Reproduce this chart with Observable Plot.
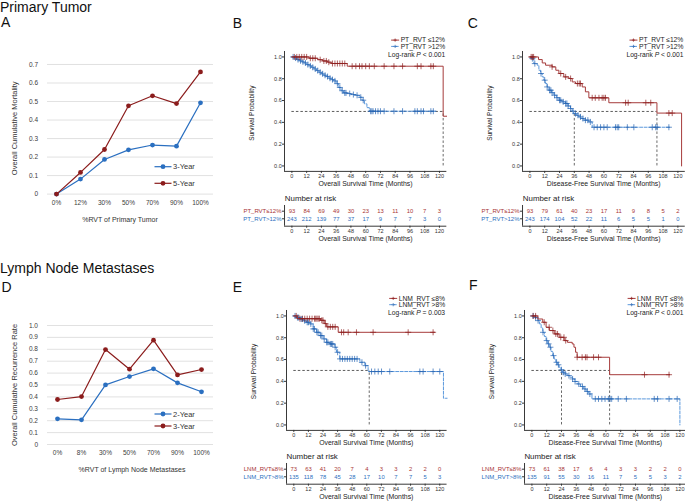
<!DOCTYPE html>
<html><head><meta charset="utf-8">
<script src="https://cdn.jsdelivr.net/npm/d3@7"></script>
<script src="https://cdn.jsdelivr.net/npm/@observablehq/plot@0.6"></script>
<style>
html,body{margin:0;padding:0;background:#fff;overflow:hidden;}
#root{position:relative;width:685px;height:501px;overflow:hidden;background:#fff;}
#root > svg{position:absolute;}
</style></head>
<body><div id="root"></div>
<script>
// ================= DATA =================
const ptCategories = ["0%","12%","30%","50%","70%","90%","100%"];
const pt3Year = [0, 0.081, 0.187, 0.239, 0.265, 0.259, 0.493];
const pt5Year = [0, 0.117, 0.241, 0.477, 0.531, 0.489, 0.660];
const ptTicks = [0, 0.1, 0.2, 0.3, 0.4, 0.5, 0.6, 0.7];

const lnmCategories = ["0%","8%","30%","50%","70%","90%","100%"];
const lnm2Year = [0.216, 0.207, 0.501, 0.571, 0.636, 0.518, 0.443];
const lnm3Year = [0.378, 0.403, 0.798, 0.633, 0.877, 0.585, 0.630];
const lnmTicks = [0, 0.1, 0.2, 0.3, 0.4, 0.5, 0.6, 0.7, 0.8, 0.9, 1.0];

const riskTimes = [0, 12, 24, 36, 48, 60, 72, 84, 96, 108, 120];
const survTicks = [0, 0.2, 0.4, 0.6, 0.8, 1.0];

// B: PT, overall survival
const bRiskLow  = [93, 84, 69, 49, 30, 23, 13, 11, 10, 7, 3];
const bRiskHigh = [243, 212, 139, 77, 37, 17, 9, 7, 7, 3, 0];
const bLowTimes = [0, 14, 21, 25, 29, 32, 45, 123, 126];
const bLowSurv  = [1, 0.988, 0.975, 0.963, 0.952, 0.94, 0.915, 0.456, 0.456];
const bLowCensor = [2,4,6,8,10,12,15,17,19,23,26,28,30,33,35,37,39,41,43,49,52,55,57,60,63,67,75,83,90,102,105,113,115];
const bHighTimes = [0,2,4,6,8,10,12,14,16,18,20,22,24,26,28,30,32,34,36,38,40,42,45,48,52,55,57,59,61,63,117];
const bHighSurv  = [1,0.99,0.976,0.965,0.955,0.945,0.93,0.918,0.905,0.89,0.875,0.86,0.845,0.832,0.82,0.805,0.792,0.78,0.755,0.72,0.69,0.67,0.664,0.655,0.648,0.63,0.603,0.57,0.535,0.502,0.502];
const bHighCensor = [1,3,5,7,9,11,13,15,17,19,21,23,25,27,29,31,33,35,37,39,41,43,44,47,50,53,56,58,64,65,66,68,70,72,75,83,90,100,102,105,107,113,115];
const bMedians = [123];

// C: PT, disease-free survival
const cRiskLow  = [93, 79, 61, 40, 23, 17, 11, 9, 8, 5, 2];
const cRiskHigh = [243, 174, 104, 52, 22, 11, 6, 5, 5, 1, 0];
const cLowTimes = [0,7,10,12.7,18,21,23.5,27.5,31.6,34.3,37,42.4,45,47.8,64,103,123];
const cLowSurv  = [1,0.976,0.945,0.924,0.909,0.878,0.848,0.817,0.802,0.771,0.756,0.725,0.68,0.625,0.58,0.485,0];
const cLowCensor = [1,2,3,18,25,29,33,38.5,40,41,50.5,53,56,58.6,60,61.3,77.6,79.7,94,98,112.7,115.4];
const cHighTimes = [0,1,3.2,5.9,7.3,8.6,10,11.3,12.7,14,15.4,17.4,19.4,21.5,23.5,26,28.9,31,32.9,34.2,35.6,37.6,39.7,41.7,43.8,47.8,50.5,114];
const cHighSurv  = [1,0.985,0.939,0.924,0.878,0.848,0.817,0.787,0.756,0.725,0.695,0.672,0.649,0.626,0.603,0.588,0.573,0.55,0.527,0.503,0.48,0.465,0.45,0.435,0.42,0.404,0.355,0.355];
const cHighCensor = [2,4,9,12,14,16,17,18,20,22,24,25,27,29,30,31,33,35,37,39,41,43,45,47,49,52,54.6,57.3,60,62.7,69.4,70.8,72,79,84.3,99.2,102,103.2,112.7];
const cMedians = [36, 103];

// E: LNM, overall survival
const eRiskLow  = [73, 63, 41, 20, 7, 4, 3, 3, 2, 2, 0];
const eRiskHigh = [135, 118, 78, 45, 28, 17, 10, 7, 7, 5, 3];
const eLowTimes = [0, 3, 22, 25, 27, 36.5, 116];
const eLowSurv  = [1, 0.975, 0.96, 0.93, 0.90, 0.85, 0.85];
const eLowCensor = [2,5,7,9,11,13,15,17,18,19,20,21,23,24,26,28,30,32,34,39.2,41,44.7,51.5,65.2,94,114.5];
const eHighTimes = [0,2,5,8,10.4,13.2,15.9,18.7,21.4,24.1,26.9,29.6,33.7,35.1,37.8,54.3,58.4,61.1,123,126];
const eHighSurv  = [1,0.985,0.972,0.955,0.942,0.927,0.881,0.85,0.82,0.789,0.758,0.743,0.713,0.667,0.606,0.575,0.544,0.49,0.245,0.245];
const eHighCensor = [1,3,4,6,7,9,11,12,14,16,17,19,20,22,23,25,27,28,30,31,32,34,36,38,40,42,44,46,48,50,52,56,59,63.9,66.6,69.4,72.1,78.9,103.6,106.3,114.5,120];
const eMedians = [62];

// F: LNM, disease-free survival
const fRiskLow  = [73, 61, 38, 17, 6, 4, 3, 3, 2, 2, 0];
const fRiskHigh = [135, 91, 55, 30, 16, 11, 7, 5, 5, 3, 2];
const fLowTimes = [0,4.8,8.8,11.5,14.1,18.1,22.1,26.1,28.8,32.7,34.1,35.4,36.7,63,112];
const fLowSurv  = [1,0.972,0.942,0.896,0.866,0.835,0.804,0.774,0.758,0.743,0.713,0.667,0.621,0.461,0.461];
const fLowCensor = [1,3,10,14,17,19.4,20.8,23.4,26,27.4,36.7,40.7,43.4,44.7,50,54,91.3,111.2];
const fHighTimes = [0,2,4.8,6.1,7.5,8.8,10.1,11.5,12.8,14.1,15.5,16.8,18.1,19.4,20.8,22.1,23.5,24.8,26.8,28.8,30.8,32.7,34.7,36.7,39.4,42,44,46,48.7,120];
const fHighSurv  = [1,0.985,0.957,0.927,0.889,0.85,0.812,0.774,0.744,0.713,0.675,0.636,0.605,0.575,0.552,0.529,0.506,0.483,0.468,0.453,0.438,0.422,0.399,0.376,0.353,0.33,0.307,0.284,0.239,0];
const fHighCensor = [1,3,5,9,12,13.5,15,17.5,20,21.5,24,25.5,27,30,33,35,38,41,43,45,47,51.4,54,56.7,59.3,62,63.4,64.7,70,76.6,99.2,101.9,111.2,117.8];
const fMedians = [24, 63];

// ================= STYLE =================
const FONT = '"Liberation Sans", Arial, Helvetica, sans-serif';
const RED_LINE = "#a63a3a", RED_MARK = "#8e1f1f", RED_TEXT = "#a83434";
const BLUE_LINE = "#5a98dc", BLUE_MARK = "#2463b2", BLUE_TEXT = "#2c6fbe";
const TREND_BLUE = "#2a6fc0", TREND_RED = "#8b1c1c";
const AXIS = "#222";
const xDomain = [-6, 126];
const yDomain = [-0.05, 1.05];
const riskYDomain = [-0.974, 1.75];
const RIGHT_LIMIT = 683.5;

const root = document.getElementById("root");
function place(svg, left, top){ svg.style.left = left + "px"; svg.style.top = top + "px"; root.appendChild(svg); }

function stepAt(times, surv, t){ let s = surv[0]; for (let i = 0; i < times.length; i++) if (times[i] <= t) s = surv[i]; return s; }

// ================= TREND PANELS (A, D) =================
function trendPanel(c){
  const ML = 40, MR = 4, MT = 6, MB = 16;
  const W = c.gridR - c.gridL + ML + MR;
  const H = c.py0 - c.pyMax + MT + MB;
  const marks = [
    Plot.ruleY(c.yTicks, {stroke: "#d9d9d9", strokeWidth: 0.8}),
    Plot.axisY(c.yTicks, {tickSize: 0, tickPadding: 9.5, tickFormat: d => d === 0 ? "0" : d.toFixed(1), fontSize: 6.5, color: "#404040", label: null}),
    Plot.axisX({tickSize: 0, tickPadding: c.xPad, fontSize: 6.5, color: "#404040", label: null})
  ];
  c.series.forEach(s => {
    const d = c.categories.map((cat, i) => ({cat, v: s.values[i]}));
    marks.push(Plot.line(d, {x: "cat", y: "v", stroke: s.color, strokeWidth: 1.2}));
    marks.push(Plot.dot(d, {x: "cat", y: "v", fill: s.color, r: 2.4}));
  });
  const svg = Plot.plot({
    width: W, height: H, marginLeft: ML, marginRight: MR, marginTop: MT, marginBottom: MB,
    x: {type: "point", domain: c.categories, padding: 0, insetLeft: c.px0 - c.gridL, insetRight: c.gridR - c.pxN, axis: null, label: null},
    y: {domain: [0, c.yMax], axis: null, label: null},
    style: {fontFamily: FONT, fontSize: "6.5px", background: "transparent", overflow: "visible"},
    marks
  });
  place(svg, c.gridL - ML, c.pyMax - MT);
}

trendPanel({categories: ptCategories, yTicks: ptTicks, yMax: 0.7,
  series: [{values: pt3Year, color: TREND_BLUE}, {values: pt5Year, color: TREND_RED}],
  gridL: 47, gridR: 213, px0: 54, pxN: 202, pyMax: 63.7, py0: 193.3, xPad: 6.5});
trendPanel({categories: lnmCategories, yTicks: lnmTicks, yMax: 1.0,
  series: [{values: lnm2Year, color: TREND_BLUE}, {values: lnm3Year, color: TREND_RED}],
  gridL: 47, gridR: 213, px0: 57.3, pxN: 201.7, pyMax: 325, py0: 444, xPad: 5.5});

// ================= KM PANELS (B, C, E, F) =================
const kmLayouts = [];
function kmPanel(c){
  const k = (c.px120 - c.px0) / 120;
  const axL = c.px0 + xDomain[0] * k, axR = c.px0 + xDomain[1] * k;
  const ky = c.py0 - c.py1;
  const axT = c.py1 - (yDomain[1] - 1) * ky, axB = c.py0 - yDomain[0] * ky;
  const ML = 30, MR = 4, MT = 3, MB = 12;
  const W = axR - axL + ML + MR;
  const maxMed = d3.max(c.medians);
  const marks = [
    Plot.ruleY([{y: 0.5, x1: 0, x2: maxMed}], {y: "y", x1: "x1", x2: "x2", stroke: "#333", strokeWidth: 0.8, strokeDasharray: "2.5,2"}),
    Plot.ruleX(c.medians.map(m => ({x: m, y1: 0, y2: 0.5})), {x: "x", y1: "y1", y2: "y2", stroke: "#444", strokeWidth: 0.8, strokeDasharray: "2.5,2"}),
    Plot.ruleX([xDomain[0]], {stroke: AXIS, strokeWidth: 0.9}),
    Plot.ruleY([yDomain[0]], {stroke: AXIS, strokeWidth: 0.9}),
    Plot.axisX(riskTimes, {tickSize: 2, tickPadding: 0.8, fontSize: 5.5, color: "#333", label: null}),
    Plot.axisY(survTicks, {tickSize: 2, tickPadding: 0.8, tickFormat: d => d.toFixed(1), fontSize: 5.5, color: "#333", label: null})
  ];
  c.groups.slice().reverse().forEach(g => {
    const pts = g.times.map((t, i) => ({t, s: g.surv[i]}));
    marks.push(Plot.line(pts, {x: "t", y: "s", curve: "step-after", stroke: g.lineColor, strokeWidth: 1, strokeDasharray: g.dash}));
    const cens = g.censor.map(t => ({t, s: stepAt(g.times, g.surv, t)}));
    marks.push(Plot.dot(cens, {x: "t", y: "s", symbol: "plus", r: 2.1, stroke: g.markColor, strokeWidth: 0.7}));
  });
  const svg = Plot.plot({
    width: W, height: axB - axT + MT + MB, marginLeft: ML, marginRight: MR, marginTop: MT, marginBottom: MB,
    x: {domain: xDomain, axis: null, label: null}, y: {domain: yDomain, axis: null, label: null},
    style: {fontFamily: FONT, fontSize: "5.5px", background: "transparent", overflow: "visible"},
    marks
  });
  place(svg, axL - ML, axT - MT);

  // risk table
  const rTop = c.py0 + 39.3, rBot = c.py0 + 60;
  const RMT = 2, RMB = 10;
  const rmarks = [
    Plot.ruleX([xDomain[0]], {stroke: AXIS, strokeWidth: 0.9}),
    Plot.ruleY([riskYDomain[0]], {stroke: AXIS, strokeWidth: 0.9}),
    Plot.axisX(riskTimes, {tickSize: 2, tickPadding: 0.8, fontSize: 5.5, color: "#333", label: null}),
    Plot.axisY([0, 1], {tickSize: 2, tickFormat: () => "", color: "#333", label: null})
  ];
  c.groups.forEach((g, gi) => {
    const row = gi === 0 ? 1 : 0;
    rmarks.push(Plot.text([{row, label: g.riskLabel}], {y: "row", text: "label", frameAnchor: "left", textAnchor: "end", dx: -3, fill: g.textColor, fontSize: 6}));
    rmarks.push(Plot.text(riskTimes.map((t, i) => ({t, row, n: String(g.risk[i])})), {x: "t", y: "row", text: "n", fill: g.textColor, fontSize: 5.9}));
  });
  const rsvg = Plot.plot({
    width: W, height: rBot - rTop + RMT + RMB, marginLeft: ML, marginRight: MR, marginTop: RMT, marginBottom: RMB,
    x: {domain: xDomain, axis: null, label: null}, y: {domain: riskYDomain, axis: null, label: null},
    style: {fontFamily: FONT, fontSize: "5.5px", background: "transparent", overflow: "visible"},
    marks: rmarks
  });
  place(rsvg, axL - ML, rTop - RMT);
  kmLayouts.push({c, k, axL, axR});
}

const ptGroups = (low, high) => [
  {legend: "PT_RVT \u226412%", riskLabel: "PT_RVT\u226412%", lineColor: RED_LINE, markColor: RED_MARK, textColor: RED_TEXT, dash: null, ...low},
  {legend: "PT_RVT >12%", riskLabel: "PT_RVT>12%", lineColor: BLUE_LINE, markColor: BLUE_MARK, textColor: BLUE_TEXT, dash: "3,1.5", ...high}
];
const lnmGroups = (low, high) => [
  {legend: "LNM_RVT \u22648%", riskLabel: "LNM_RVT\u22648%", lineColor: RED_LINE, markColor: RED_MARK, textColor: RED_TEXT, dash: null, ...low},
  {legend: "LNM_RVT >8%", riskLabel: "LNM_RVT>8%", lineColor: BLUE_LINE, markColor: BLUE_MARK, textColor: BLUE_TEXT, dash: "3,1.5", ...high}
];

kmPanel({letter: "B", lx: 232.7, ly: 28.3, px0: 291.7, px120: 439.3, py1: 56.7, py0: 165.7,
  xTitle: "Overall Survival Time (Months)", logrank: " < 0.001", medians: bMedians,
  groups: ptGroups({times: bLowTimes, surv: bLowSurv, censor: bLowCensor, risk: bRiskLow}, {times: bHighTimes, surv: bHighSurv, censor: bHighCensor, risk: bRiskHigh})});
kmPanel({letter: "C", lx: 467.7, ly: 28.3, px0: 529.7, px120: 677.7, py1: 56.7, py0: 165.7,
  xTitle: "Disease-Free Survival Time (Months)", logrank: " < 0.001", medians: cMedians,
  groups: ptGroups({times: cLowTimes, surv: cLowSurv, censor: cLowCensor, risk: cRiskLow}, {times: cHighTimes, surv: cHighSurv, censor: cHighCensor, risk: cRiskHigh})});
kmPanel({letter: "E", lx: 232.7, ly: 291.7, px0: 293.3, px120: 439.3, py1: 315, py0: 424,
  xTitle: "Overall Survival Time (Months)", logrank: " = 0.003", medians: eMedians,
  groups: lnmGroups({times: eLowTimes, surv: eLowSurv, censor: eLowCensor, risk: eRiskLow}, {times: eHighTimes, surv: eHighSurv, censor: eHighCensor, risk: eRiskHigh})});
kmPanel({letter: "F", lx: 469, ly: 290, px0: 531.3, px120: 679.3, py1: 315, py0: 424,
  xTitle: "Disease-Free Survival Time (Months)", logrank: " < 0.001", medians: fMedians,
  groups: lnmGroups({times: fLowTimes, surv: fLowSurv, censor: fLowCensor, risk: fRiskLow}, {times: fHighTimes, surv: fHighSurv, censor: fHighCensor, risk: fRiskHigh})});

// ================= OVERLAY TEXT =================
const overlay = d3.create("svg").attr("width", 685).attr("height", 501)
  .style("left", "0px").style("top", "0px").style("pointer-events", "none")
  .attr("font-family", FONT);
root.appendChild(overlay.node());

function text(x, y, str, opt = {}){
  const t = overlay.append("text").attr("x", x).attr("y", y)
    .attr("font-size", opt.size || 7).attr("fill", opt.fill || "#1a1a1a")
    .attr("text-anchor", opt.anchor || "start");
  if (opt.rotate) t.attr("transform", `rotate(${opt.rotate},${x},${y})`);
  if (Array.isArray(str)) str.forEach(p => t.append("tspan").attr("font-style", p.italic ? "italic" : null).text(p.t));
  else t.text(str);
  return t;
}

// Section titles and trend panels
text(0, 11.7, "Primary Tumor", {size: 14, fill: "#111"});
text(1, 26.7, "A", {size: 14, fill: "#111"});
text(120, 222, "%RVT of Primary Tumor", {size: 7, fill: "#333", anchor: "middle"});
text(16.7, 128.3, "Overall Cumulative Mortality", {size: 7.5, fill: "#333", anchor: "middle", rotate: -90});
text(0, 272.5, "Lymph Node Metastases", {size: 14, fill: "#111"});
text(1.5, 291.7, "D", {size: 14, fill: "#111"});
text(132, 471.5, "%RVT of Lymph Node Metastases", {size: 7, fill: "#333", anchor: "middle"});
text(16.7, 385, "Overall Cumulative Recurrence Rate", {size: 7.5, fill: "#333", anchor: "middle", rotate: -90});

function trendLegend(items, x1, x2, ys){
  items.forEach((it, i) => {
    overlay.append("line").attr("x1", x1).attr("x2", x2).attr("y1", ys[i]).attr("y2", ys[i]).attr("stroke", it.color).attr("stroke-width", 1.2);
    overlay.append("circle").attr("cx", (x1 + x2) / 2).attr("cy", ys[i]).attr("r", 2.4).attr("fill", it.color);
    text(x2 + 1.5, ys[i] + 2.7, it.label, {size: 7.5, fill: "#333"});
  });
}
trendLegend([{label: "3-Year", color: TREND_BLUE}, {label: "5-Year", color: TREND_RED}], 154.5, 171.5, [166.7, 183.3]);
trendLegend([{label: "2-Year", color: TREND_BLUE}, {label: "3-Year", color: TREND_RED}], 154.5, 171.5, [414, 426]);

// KM texts
kmLayouts.forEach(({c, k, axL, axR}) => {
  const xMid = c.px0 + 60 * k;
  text(c.lx, c.ly, c.letter, {size: 14, fill: "#111"});
  text(axL - 30, (c.py1 + c.py0) / 2 + 2, "Survival Probability", {size: 6.5, fill: "#222", anchor: "middle", rotate: -90});
  text(xMid, c.py0 + 20.5, c.xTitle, {size: 6.9, fill: "#222", anchor: "middle"});
  text(axL + 0.5, c.py0 + 34.8, "Number at risk", {size: 7.9, fill: "#222"});
  text(xMid, c.py0 + 75, c.xTitle, {size: 6.9, fill: "#222", anchor: "middle"});
  // legend
  const right = Math.min(axR - 1.5, RIGHT_LIMIT);
  const rows = [c.py1 - 14.3, c.py1 - 8];
  const temp = c.groups.map((g, i) => text(0, rows[i], g.legend, {size: 6.7, fill: "#222"}));
  const wmax = d3.max(temp, t => t.node().getComputedTextLength());
  const tx = right - wmax;
  temp.forEach(t => t.attr("x", tx));
  c.groups.forEach((g, i) => {
    const yy = rows[i] - 2.3;
    overlay.append("line").attr("x1", tx - 9.5).attr("x2", tx - 1.5).attr("y1", yy).attr("y2", yy)
      .attr("stroke", g.lineColor).attr("stroke-width", 1).attr("stroke-dasharray", g.dash);
    const cx = tx - 5.5;
    overlay.append("path").attr("d", `M${cx - 1.6},${yy}H${cx + 1.6}M${cx},${yy - 1.6}V${yy + 1.6}`)
      .attr("stroke", g.markColor).attr("stroke-width", 0.7).attr("fill", "none");
  });
  text(right, c.py1 - 0.2, [{t: "Log-rank "}, {t: "P", italic: true}, {t: c.logrank}], {size: 6.7, fill: "#222", anchor: "end"});
});
</script>
</body></html>
